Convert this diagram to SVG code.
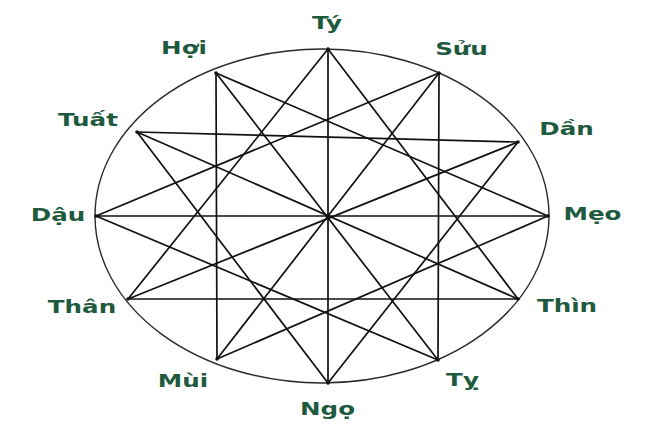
<svg xmlns="http://www.w3.org/2000/svg" width="660" height="440" viewBox="0 0 660 440">
<style>
.bg{fill:#ffffff}
.rim{fill:none;stroke:#2a2a2a;stroke-width:1.4}
.edge{stroke:#111111;stroke-width:1.7;stroke-linecap:round;fill:none}
.dot{fill:#111}
.label{font-family:"DejaVu Sans","Liberation Sans",sans-serif;font-weight:bold;font-size:18.5px;fill:#1e5a3e;text-anchor:middle}
</style>
<rect class="bg" x="0" y="0" width="660" height="440"/>
<ellipse id="rim" class="rim" cx="322" cy="216" rx="227" ry="167"/>
<g id="connectors">
  <path id="e-ty-ngo" class="edge" d="M328 49 L328 383"/>
  <path id="e-hoi-mui" class="edge" d="M216 73 L217 359"/>
  <path id="e-suu-ti" class="edge" d="M439 73 L438 360"/>
  <path id="e-tuat-dan" class="edge" d="M137 132 L518 142"/>
  <path id="e-dau-meo" class="edge" d="M96 216 L548 216"/>
  <path id="e-than-thin" class="edge" d="M128 299 L518 299"/>
  <path id="e-tuat-thin" class="edge" d="M137 132 L518 299"/>
  <path id="e-hoi-ti" class="edge" d="M216 73 L438 360"/>
  <path id="e-suu-mui" class="edge" d="M439 73 L217 359"/>
  <path id="e-dan-than" class="edge" d="M518 142 L128 299"/>
  <path id="e-ty-than" class="edge" d="M328 49 L128 299"/>
  <path id="e-ty-thin" class="edge" d="M328 49 L518 299"/>
  <path id="e-ngo-tuat" class="edge" d="M328 383 L137 132"/>
  <path id="e-ngo-dan" class="edge" d="M328 383 L518 142"/>
  <path id="e-meo-hoi" class="edge" d="M548 216 L216 73"/>
  <path id="e-meo-mui" class="edge" d="M548 216 L217 359"/>
  <path id="e-dau-suu" class="edge" d="M96 216 L439 73"/>
  <path id="e-dau-ti" class="edge" d="M96 216 L438 360"/>
</g>
<g id="node-ty"><circle class="dot" cx="328" cy="49" r="1.8"/><text class="label" transform="translate(327,28.5) scale(1.33,1)">Tý</text></g>
<g id="node-hoi"><circle class="dot" cx="216" cy="73" r="1.8"/><text class="label" transform="translate(184,54) scale(1.33,1)">Hợi</text></g>
<g id="node-suu"><circle class="dot" cx="439" cy="73" r="1.8"/><text class="label" transform="translate(461.5,55) scale(1.33,1)">Sửu</text></g>
<g id="node-tuat"><circle class="dot" cx="137" cy="132" r="1.8"/><text class="label" transform="translate(88,126) scale(1.33,1)">Tuất</text></g>
<g id="node-dan"><circle class="dot" cx="518" cy="142" r="1.8"/><text class="label" transform="translate(566.5,135) scale(1.33,1)">Dần</text></g>
<g id="node-dau"><circle class="dot" cx="96" cy="216" r="1.8"/><text class="label" transform="translate(58,220.5) scale(1.33,1)">Dậu</text></g>
<g id="node-meo"><circle class="dot" cx="548" cy="216" r="1.8"/><text class="label" transform="translate(592.5,219.5) scale(1.33,1)">Mẹo</text></g>
<g id="node-than"><circle class="dot" cx="128" cy="299" r="1.8"/><text class="label" transform="translate(82,313) scale(1.33,1)">Thân</text></g>
<g id="node-thin"><circle class="dot" cx="518" cy="299" r="1.8"/><text class="label" transform="translate(567,312) scale(1.33,1)">Thìn</text></g>
<g id="node-mui"><circle class="dot" cx="217" cy="359" r="1.8"/><text class="label" transform="translate(183,386.5) scale(1.33,1)">Mùi</text></g>
<g id="node-ti"><circle class="dot" cx="438" cy="360" r="1.8"/><text class="label" transform="translate(462.5,386) scale(1.33,1)">Tỵ</text></g>
<g id="node-ngo"><circle class="dot" cx="328" cy="383" r="1.8"/><text class="label" transform="translate(327.5,415) scale(1.33,1)">Ngọ</text></g>
<g id="node-center"><circle class="dot" cx="328" cy="216" r="2"/></g>
</svg>
